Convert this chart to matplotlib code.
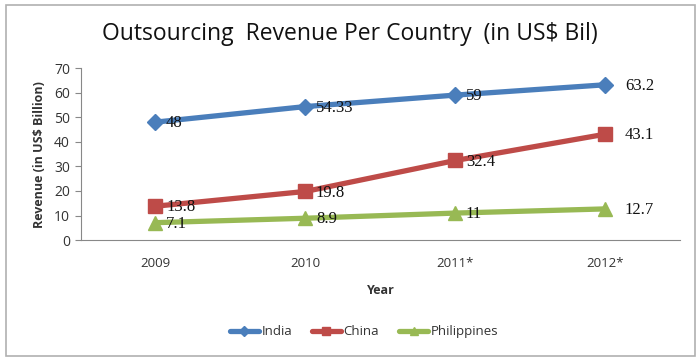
import matplotlib
matplotlib.use("Agg")
import matplotlib.pyplot as plt
from matplotlib.patches import Rectangle

years = ["2009", "2010", "2011*", "2012*"]
india = [48, 54.33, 59, 63.2]
china = [13.8, 19.8, 32.4, 43.1]
philippines = [7.1, 8.9, 11, 12.7]
india_labels = ["48", "54.33", "59", "63.2"]
china_labels = ["13.8", "19.8", "32.4", "43.1"]
phil_labels = ["7.1", "8.9", "11", "12.7"]

plt.rcParams['font.family'] = ['Open Sans', 'DejaVu Sans']

fig = plt.figure(figsize=(7, 3.6), dpi=100)
fig.patches.append(Rectangle((0.008, 0.012), 0.985, 0.975, transform=fig.transFigure,
                             fill=False, edgecolor='#b0b0b0', linewidth=1.2))
ax = fig.add_axes([0.115, 0.333, 0.857, 0.478])

x = list(range(len(years)))
series = [
    ("India", india, india_labels, '#4A7EBB', 'D', 8),
    ("China", china, china_labels, '#BE4B48', 's', 10),
    ("Philippines", philippines, phil_labels, '#98B954', '^', 10),
]
for name, vals, labs, col, mk, ms in series:
    ax.plot(x, vals, color=col, linewidth=3.8, marker=mk, markersize=ms,
            label=name, solid_capstyle='round')
    for i, (v, l) in enumerate(zip(vals, labs)):
        dx = 0.07 if i < 3 else 0.13
        ax.text(i + dx, v - 0.5, l, fontsize=12, family=['Liberation Serif'],
                va='center', ha='left', color='#111111')

ax.set_xlim(-0.5, 3.5)
ax.set_ylim(0, 70)
ax.set_yticks(range(0, 71, 10))
ax.set_xticks(x)
ax.set_xticklabels(years)
for s in ['top', 'right']:
    ax.spines[s].set_visible(False)
for s in ['left', 'bottom']:
    ax.spines[s].set_color('#888888')
ax.tick_params(axis='y', length=4, color='#888888', labelsize=10, labelcolor='#333333')
ax.tick_params(axis='x', length=0, labelsize=9.5, labelcolor='#333333', pad=12)
ax.set_ylabel("Revenue (in US$ Billion)", fontsize=9, fontweight='bold', color='#333333', labelpad=6)
ax.set_xlabel("Year", fontsize=9, fontweight='bold', color='#333333', labelpad=10)

fig.text(0.5, 0.905, "Outsourcing  Revenue Per Country  (in US$ Bil)", ha='center', va='center',
         fontsize=16.5, color='#111111')

leg = fig.legend(loc='center', bbox_to_anchor=(0.52, 0.078), ncol=3, frameon=False,
                 fontsize=9.5, handlelength=2.2, handletextpad=0.2, columnspacing=1.5,
                 markerscale=0.6)
for t in leg.get_texts():
    t.set_color('#333333')

fig.savefig("out.png", dpi=100)
